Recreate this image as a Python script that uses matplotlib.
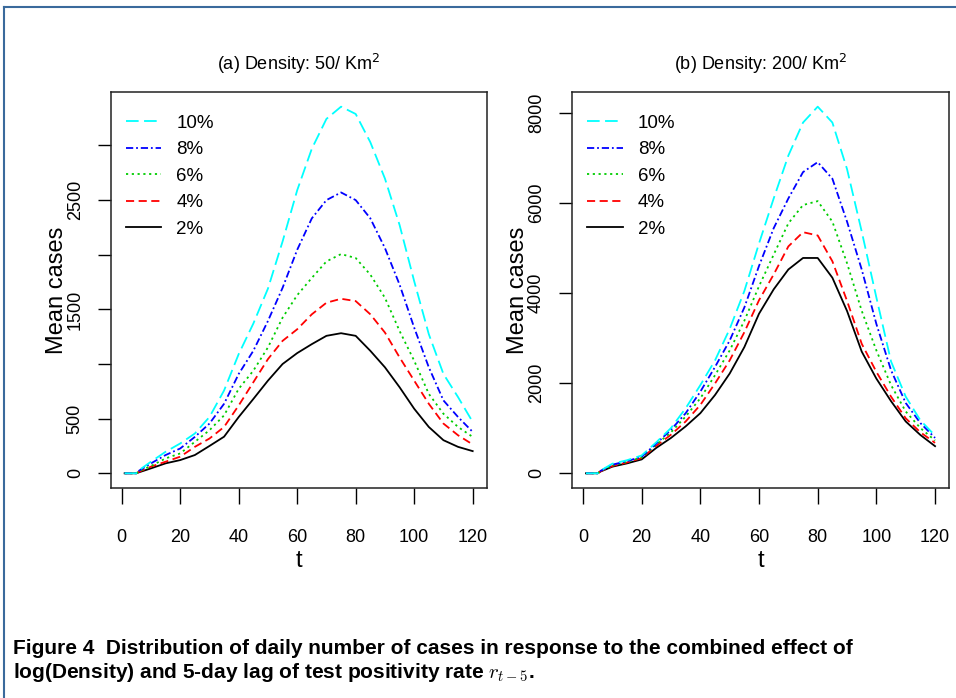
"""
Figure 4: mean daily cases vs t for several test positivity rates,
two population densities (R-style base graphics look).
"""
import numpy as np
import matplotlib
matplotlib.use('Agg')
import matplotlib.pyplot as plt
from matplotlib import font_manager
from matplotlib.lines import Line2D

# Fuentes ------------------------------------------------------------
names = {f.name for f in font_manager.fontManager.ttflist}
narrow = 'Liberation Sans Narrow' if 'Liberation Sans Narrow' in names else 'Liberation Sans'
plt.rcParams['font.family'] = [narrow, 'DejaVu Sans']

# Datos --------------------------------------------------------------
t = [1, 5, 6, 10, 15, 20, 25, 30, 35, 40, 45, 50, 55, 60, 65, 70, 75, 80,
     85, 90, 95, 100, 105, 110, 115, 120]

rates = ['10%', '8%', '6%', '4%', '2%']

# (a) Density 50 / Km2
d50_10 = [0, 0, 30, 106, 197, 273, 364, 515, 758, 1091, 1370, 1690, 2121, 2590, 2970,
          3243, 3355, 3288, 3030, 2697, 2273, 1758, 1273, 909, 697, 470]
d50_8 = [0, 0, 25, 91, 167, 227, 333, 455, 636, 909, 1121, 1394, 1697, 2045, 2333,
         2500, 2570, 2500, 2333, 2061, 1727, 1333, 970, 667, 515, 379]
d50_6 = [0, 0, 20, 67, 136, 182, 288, 394, 530, 773, 939, 1152, 1424, 1630, 1788,
         1939, 2006, 1970, 1818, 1606, 1303, 1030, 727, 545, 424, 333]
d50_4 = [0, 0, 15, 61, 106, 152, 242, 318, 424, 621, 833, 1045, 1212, 1318, 1455,
         1561, 1597, 1576, 1455, 1288, 1061, 848, 636, 455, 348, 264]
d50_2 = [0, 0, 10, 45, 91, 121, 167, 250, 335, 515, 680, 848, 1000, 1100, 1182,
         1258, 1282, 1258, 1121, 970, 788, 591, 424, 303, 242, 203]

# (b) Density 200 / Km2
d200_10 = [0, 0, 60, 213, 290, 396, 690, 1004, 1444, 1956, 2505, 3202, 4044, 5100, 6097,
           7048, 7780, 8132, 7780, 6747, 5363, 3899, 2480, 1700, 1174, 836]
d200_8 = [0, 0, 55, 191, 270, 367, 660, 967, 1333, 1811, 2359, 2945, 3679, 4600, 5437,
          6097, 6681, 6901, 6534, 5582, 4521, 3312, 2286, 1560, 1114, 785]
d200_6 = [0, 0, 50, 176, 255, 352, 640, 910, 1260, 1664, 2176, 2725, 3385, 4150, 4851,
          5545, 5950, 6037, 5582, 4660, 3604, 2725, 1956, 1371, 1004, 727]
d200_4 = [0, 0, 45, 162, 240, 338, 610, 857, 1150, 1517, 1993, 2505, 3130, 3840, 4411,
          5033, 5348, 5275, 4703, 3824, 2873, 2250, 1700, 1220, 910, 675]
d200_2 = [0, 0, 40, 147, 220, 308, 565, 785, 1042, 1334, 1737, 2213, 2800, 3540, 4081,
          4521, 4776, 4776, 4338, 3600, 2700, 2100, 1600, 1150, 850, 602]

yticks_a = [0, 500, 1000, 1500, 2000, 2500, 3000]
ylabels_a = ['0', '500', '', '1500', '', '2500', '']
yticks_b = [0, 2000, 4000, 6000, 8000]
ylabels_b = ['0', '2000', '4000', '6000', '8000']
xticks = [0, 20, 40, 60, 80, 100, 120]

# Estilos tipo R (lty 5, 4, 3, 2, 1)
colors = ['#00ffff', '#0000ff', '#00cd00', '#ff0000', '#000000']
styles = [(0, (7, 3)), (0, (4, 1.6, 1, 1.6)), (0, (1.2, 2)), (0, (4.5, 2.5)), '-']
LW = 1.3


def r_lim(lo, hi):
    # R pads the axis range by 4% on each side
    pad = 0.04 * (hi - lo)
    return lo - pad, hi + pad


def panel(ax, series, title, yticks, ylabels):
    # dibujamos de 2% a 10% para que el cian quede encima
    for s, c, ls in reversed(list(zip(series, colors, styles))):
        ax.plot(t, s, color=c, linestyle=ls, lw=LW)
    ymax = max(max(s) for s in series)
    ax.set_xlim(r_lim(1, 120))
    ax.set_ylim(r_lim(0, ymax))
    ax.set_xticks(xticks)
    ax.set_yticks(yticks)
    ax.set_yticklabels(ylabels, rotation=90, va='center')
    ax.tick_params(axis='x', length=11.5, width=1, pad=18, labelsize=13)
    ax.tick_params(axis='y', length=9.4, width=1, pad=10, labelsize=13)
    for sp in ax.spines.values():
        sp.set_linewidth(1.1)
        sp.set_color('#222222')
    ax.set_title(title, fontsize=13, pad=16)
    ax.set_xlabel('t', fontsize=17, family='Liberation Sans')
    ax.set_ylabel('Mean cases', fontsize=17, family='Liberation Sans')
    ax.xaxis.set_label_coords(0.5, -0.185)
    ax.xaxis.label.set_verticalalignment('center')
    ax.yaxis.set_label_coords(-0.142, 0.5)
    ax.yaxis.label.set_verticalalignment('center')
    handles = [Line2D([], [], color=c, linestyle=ls, lw=LW) for c, ls in zip(colors, styles)]
    ax.legend(handles, rates, loc='upper left', bbox_to_anchor=(0.02, 0.962),
              borderaxespad=0, frameon=False, fontsize=13.5, handlelength=1.9,
              handletextpad=0.8, labelspacing=0.5)


fig = plt.figure(figsize=(9.56, 6.98), dpi=100)
ax1 = fig.add_axes([0.1158, 0.3009, 0.3932, 0.5673])
ax2 = fig.add_axes([0.5983, 0.3009, 0.3944, 0.5673])

panel(ax1, [d50_10, d50_8, d50_6, d50_4, d50_2], '(a) Density: 50/ Km$^2$', yticks_a, ylabels_a)
panel(ax2, [d200_10, d200_8, d200_6, d200_4, d200_2], '(b) Density: 200/ Km$^2$', yticks_b, ylabels_b)

# Marco azul de la pagina
frame = '#3a6a9c'
fig.add_artist(Line2D([4 / 956, 1], [1 - 7 / 698, 1 - 7 / 698], transform=fig.transFigure, color=frame, lw=1.5))
fig.add_artist(Line2D([4 / 956, 4 / 956], [0, 1 - 7 / 698], transform=fig.transFigure, color=frame, lw=1.5))

# Pie de figura
cap1 = 'Figure 4  Distribution of daily number of cases in response to the combined effect of'
cap2 = 'log(Density) and 5-day lag of test positivity rate $r_{t-5}$.'
fig.text(13 / 956, 1 - 648 / 698, cap1, fontsize=15, weight='bold', va='center')
fig.text(13 / 956, 1 - 673 / 698, cap2, fontsize=15, weight='bold', va='center', math_fontfamily='cm')

fig.savefig('out.png', dpi=100, facecolor='white')
